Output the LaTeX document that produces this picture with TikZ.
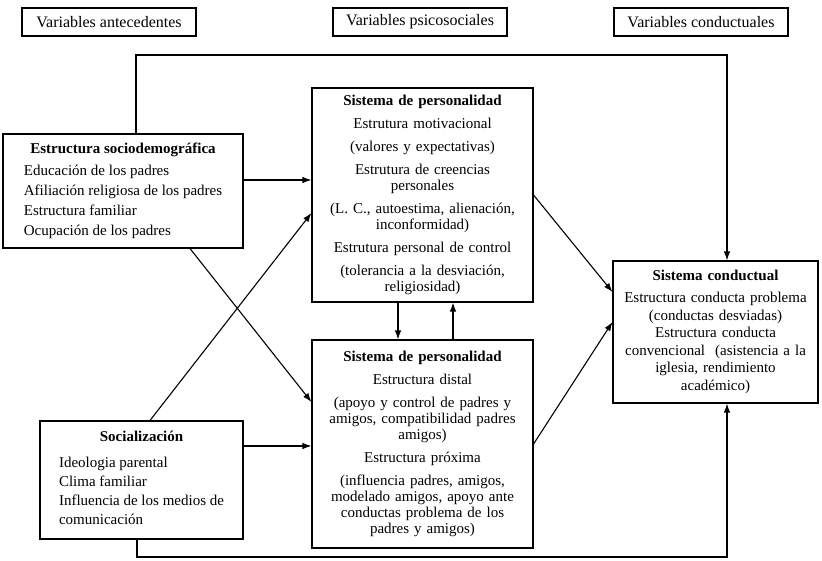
\documentclass[tikz,border=0pt]{standalone}
\usepackage{fontspec}
\setmainfont{Liberation Serif}
\usetikzlibrary{arrows.meta}

\begin{document}
\begin{tikzpicture}[x=1pt, y=-1pt,
		line width=1.1pt,
		hdr/.style={draw, minimum width=174, minimum height=28, inner sep=0pt,
			font=\fontsize{16}{18}\selectfont},
		box/.style 2 args={draw, minimum width=#1, minimum height=#2, inner sep=0pt,
			font=\fontsize{15}{16}\selectfont},
		arr/.style={-{Latex[length=9pt,width=6.5pt]}}
		]
		\useasboundingbox (0,0) rectangle (822,561);
		\node[hdr] (hante) at (109,22) {Variables antecedentes};
		\node[hdr] (hpsico) at (420,22) {Variables psicosociales};
		\node[hdr] (hcond) at (701,22) {Variables conductuales};
		\node[box={240}{114}] (socio) at (123,191) {\begin{tabular}{@{}l@{}}
				\multicolumn{1}{@{}c@{}}{\bfseries Estructura sociodemográfica}\\[6pt]
				Educación de los padres\\[4pt]
				Afiliación religiosa de los padres\\[4pt]
				Estructura familiar\\[4pt]
				Ocupación de los padres
			\end{tabular}};
		\node[box={203}{118}] (social) at (141.5,480) {\begin{tabular}{@{}l@{}}
				\multicolumn{1}{@{}c@{}}{\bfseries Socialización}\\[10pt]
				Ideologia parental\\[3pt]
				Clima familiar\\[3pt]
				Influencia de los medios de\\[3pt]
				comunicación
			\end{tabular}};
		\node[box={221}{214}, text width=215, align=center] (ptop) at (422.5,195) {%
			{\bfseries Sistema de personalidad}\\[7pt]
			Estrutura motivacional\\[7pt]
			(valores y expectativas)\\[7pt]
			Estrutura de creencias\\ personales\\[7pt]
			(L. C., autoestima, alienación,\\ inconformidad)\\[7pt]
			Estrutura personal de control\\[7pt]
			(tolerancia a la desviación,\\ religiosidad)};
		\node[box={221}{208}, text width=215, align=center] (pbot) at (422.5,444) {%
			{\bfseries Sistema de personalidad}\\[7pt]
			Estructura distal\\[7pt]
			(apoyo y control de padres y\\ amigos, compatibilidad padres\\ amigos)\\[7pt]
			Estructura próxima\\[7pt]
			(influencia padres, amigos,\\ modelado amigos, apoyo ante\\ conductas problema de los\\ padres y amigos)};
		\node[box={205}{142}, text width=200, align=center] (conduc) at (715.5,332) {%
			{\bfseries Sistema conductual}\\[6pt]
			Estructura conducta problema\\[1.5pt]
			(conductas desviadas)\\[1.5pt]
			Estructura conducta\\[1.5pt]
			convencional~ (asistencia a la\\[1.5pt]
			iglesia, rendimiento\\[1.5pt]
			académico)};
		\coordinate (ltop) at (136,55);
		\coordinate (rtop) at (727,55);
		\coordinate (lbot) at (137,557);
		\coordinate (rbot) at (727,557);
		\draw[arr] (socio.east |- 0,180) to (ptop.west |- 0,180);
		\draw[arr] (socio.south -| 190,0) to (pbot.west |- 0,402);
		\draw[arr] (social.north -| 150,0) to (ptop.west |- 0,213);
		\draw[arr] (social.east |- 0,446) to (pbot.west |- 0,446);
		\draw[arr] (ptop.south -| 398,0) to (pbot.north -| 398,0);
		\draw[arr] (pbot.north -| 453,0) to (ptop.south -| 453,0);
		\draw[arr] (ptop.east) to (conduc.west |- 0,292);
		\draw[arr] (pbot.east) to (conduc.west |- 0,322);
		\draw[arr] (socio.north -| ltop) |- (rtop) -- (conduc.north -| rtop);
		\draw[arr] (social.south -| lbot) |- (rbot) -- (conduc.south -| rbot);
\end{tikzpicture}
\end{document}
